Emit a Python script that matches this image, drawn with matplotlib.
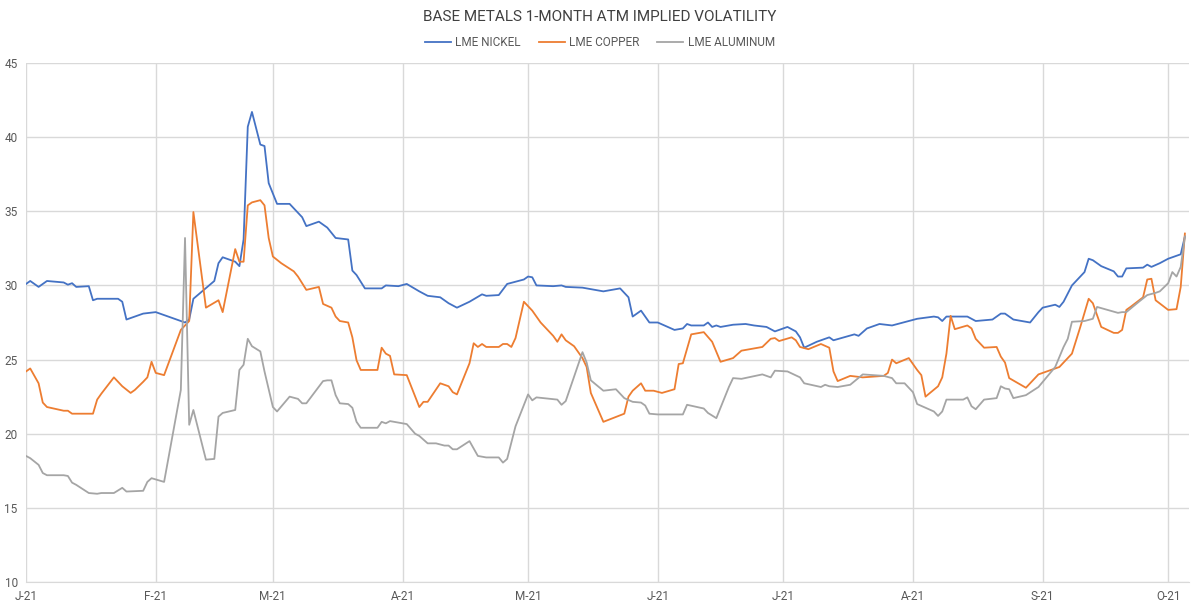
import pandas as pd
import matplotlib.pyplot as plt
import matplotlib.dates as mdates

nickel_dates = [
    "2021-01-01", "2021-01-02", "2021-01-04", "2021-01-06", "2021-01-10", "2021-01-11",
    "2021-01-12", "2021-01-13", "2021-01-16", "2021-01-17", "2021-01-18", "2021-01-23",
    "2021-01-24", "2021-01-25", "2021-01-29", "2021-02-01", "2021-02-08", "2021-02-09",
    "2021-02-10", "2021-02-15", "2021-02-16", "2021-02-17", "2021-02-20", "2021-02-21",
    "2021-02-22", "2021-02-23", "2021-02-24", "2021-02-26", "2021-02-27", "2021-02-28",
    "2021-03-02", "2021-03-05", "2021-03-07", "2021-03-08", "2021-03-09", "2021-03-12",
    "2021-03-14", "2021-03-16", "2021-03-19", "2021-03-20", "2021-03-21", "2021-03-23",
    "2021-03-27", "2021-03-28", "2021-03-31", "2021-04-02", "2021-04-05", "2021-04-07",
    "2021-04-10", "2021-04-12", "2021-04-14", "2021-04-17", "2021-04-20", "2021-04-21",
    "2021-04-24", "2021-04-26", "2021-04-30", "2021-05-01", "2021-05-02", "2021-05-03",
    "2021-05-07", "2021-05-09", "2021-05-10", "2021-05-14", "2021-05-19", "2021-05-23",
    "2021-05-25", "2021-05-26", "2021-05-28", "2021-05-30", "2021-06-01", "2021-06-05",
    "2021-06-07", "2021-06-08", "2021-06-09", "2021-06-12", "2021-06-13", "2021-06-14",
    "2021-06-15", "2021-06-16", "2021-06-19", "2021-06-22", "2021-06-24", "2021-06-27",
    "2021-06-29", "2021-07-02", "2021-07-04", "2021-07-05", "2021-07-06", "2021-07-09",
    "2021-07-12", "2021-07-13", "2021-07-18", "2021-07-19", "2021-07-21", "2021-07-24",
    "2021-07-27", "2021-07-31", "2021-08-02", "2021-08-06", "2021-08-07", "2021-08-08",
    "2021-08-09", "2021-08-14", "2021-08-16", "2021-08-20", "2021-08-22", "2021-08-23",
    "2021-08-25", "2021-08-29", "2021-08-31", "2021-09-01", "2021-09-04", "2021-09-05",
    "2021-09-06", "2021-09-08", "2021-09-11", "2021-09-12", "2021-09-13", "2021-09-15",
    "2021-09-18", "2021-09-19", "2021-09-20", "2021-09-21", "2021-09-25", "2021-09-26",
    "2021-09-27", "2021-09-29", "2021-10-01", "2021-10-04", "2021-10-05",
]
nickel_vals = [
    30.1, 30.3, 29.9, 30.3, 30.2, 30.05,
    30.15, 29.9, 29.95, 29.0, 29.1, 29.1,
    28.9, 27.7, 28.1, 28.2, 27.5, 27.7,
    29.1, 30.3, 31.5, 31.9, 31.6, 31.3,
    33.1, 40.7, 41.7, 39.5, 39.4, 36.9,
    35.5, 35.5, 34.9, 34.6, 34.0, 34.3,
    33.9, 33.2, 33.1, 31.0, 30.7, 29.8,
    29.8, 30.0, 29.95, 30.1, 29.6, 29.3,
    29.2, 28.8, 28.5, 28.9, 29.4, 29.3,
    29.35, 30.1, 30.4, 30.6, 30.55, 30.0,
    29.95, 30.0, 29.9, 29.85, 29.6, 29.8,
    29.2, 27.9, 28.3, 27.5, 27.5, 27.0,
    27.1, 27.4, 27.3, 27.3, 27.5, 27.2,
    27.3, 27.2, 27.35, 27.4, 27.3, 27.2,
    26.9, 27.2, 26.9, 26.5, 25.8, 26.2,
    26.5, 26.3, 26.7, 26.6, 27.1, 27.4,
    27.3, 27.6, 27.75, 27.9, 27.85, 27.6,
    27.9, 27.9, 27.6, 27.7, 28.1, 28.1,
    27.7, 27.5, 28.2, 28.5, 28.7, 28.55,
    28.9, 30.0, 30.9, 31.8, 31.7, 31.3,
    30.95, 30.6, 30.6, 31.15, 31.2, 31.4,
    31.25, 31.5, 31.8, 32.1, 33.3,
]

copper_dates = [
    "2021-01-01", "2021-01-02", "2021-01-04", "2021-01-05", "2021-01-06", "2021-01-10",
    "2021-01-11", "2021-01-12", "2021-01-17", "2021-01-18", "2021-01-19", "2021-01-22",
    "2021-01-24", "2021-01-26", "2021-01-27", "2021-01-29", "2021-01-30", "2021-01-31",
    "2021-02-01", "2021-02-03", "2021-02-07", "2021-02-09", "2021-02-10", "2021-02-13",
    "2021-02-16", "2021-02-17", "2021-02-20", "2021-02-21", "2021-02-22", "2021-02-23",
    "2021-02-24", "2021-02-26", "2021-02-27", "2021-02-28", "2021-03-01", "2021-03-03",
    "2021-03-06", "2021-03-07", "2021-03-09", "2021-03-12", "2021-03-13", "2021-03-15",
    "2021-03-16", "2021-03-17", "2021-03-19", "2021-03-20", "2021-03-21", "2021-03-22",
    "2021-03-26", "2021-03-27", "2021-03-28", "2021-03-29", "2021-03-30", "2021-04-02",
    "2021-04-05", "2021-04-06", "2021-04-07", "2021-04-10", "2021-04-12", "2021-04-13",
    "2021-04-14", "2021-04-17", "2021-04-18", "2021-04-19", "2021-04-20", "2021-04-21",
    "2021-04-24", "2021-04-25", "2021-04-26", "2021-04-27", "2021-04-28", "2021-04-30",
    "2021-05-02", "2021-05-04", "2021-05-07", "2021-05-08", "2021-05-09", "2021-05-10",
    "2021-05-12", "2021-05-14", "2021-05-15", "2021-05-16", "2021-05-19", "2021-05-24",
    "2021-05-25", "2021-05-26", "2021-05-28", "2021-05-29", "2021-05-31", "2021-06-02",
    "2021-06-05", "2021-06-06", "2021-06-07", "2021-06-09", "2021-06-12", "2021-06-14",
    "2021-06-16", "2021-06-19", "2021-06-21", "2021-06-26", "2021-06-28", "2021-06-29",
    "2021-06-30", "2021-07-03", "2021-07-04", "2021-07-05", "2021-07-07", "2021-07-10",
    "2021-07-12", "2021-07-13", "2021-07-14", "2021-07-17", "2021-07-20", "2021-07-25",
    "2021-07-26", "2021-07-27", "2021-07-28", "2021-07-31", "2021-08-02", "2021-08-03",
    "2021-08-04", "2021-08-07", "2021-08-08", "2021-08-09", "2021-08-10", "2021-08-11",
    "2021-08-14", "2021-08-15", "2021-08-16", "2021-08-18", "2021-08-21", "2021-08-22",
    "2021-08-23", "2021-08-24", "2021-08-28", "2021-08-31", "2021-09-05", "2021-09-08",
    "2021-09-10", "2021-09-12", "2021-09-13", "2021-09-15", "2021-09-18", "2021-09-19",
    "2021-09-20", "2021-09-21", "2021-09-22", "2021-09-25", "2021-09-26", "2021-09-27",
    "2021-09-28", "2021-10-01", "2021-10-03", "2021-10-04", "2021-10-05",
]
copper_vals = [
    24.2, 24.4, 23.4, 22.1, 21.8, 21.55,
    21.55, 21.35, 21.35, 22.3, 22.7, 23.8,
    23.2, 22.75, 22.95, 23.5, 23.8, 24.85,
    24.1, 23.95, 27.0, 27.6, 34.95, 28.5,
    29.0, 28.2, 32.45, 31.6, 31.6, 35.4,
    35.6, 35.75, 35.4, 33.2, 31.95, 31.5,
    30.95, 30.6, 29.7, 29.9, 28.75, 28.5,
    27.9, 27.6, 27.5, 26.5, 24.95, 24.3,
    24.3, 25.8, 25.4, 25.25, 24.0, 23.95,
    21.8, 22.15, 22.15, 23.4, 23.2, 22.8,
    22.65, 24.75, 26.1, 25.85, 26.05, 25.85,
    25.85, 26.05, 26.05, 25.85, 26.45, 28.9,
    28.3, 27.5, 26.6, 26.2, 26.7, 26.3,
    25.9, 25.1, 24.5, 22.75, 20.8, 21.35,
    22.5, 22.9, 23.4, 22.9, 22.9, 22.75,
    23.0, 24.7, 24.75, 26.7, 26.85, 26.2,
    24.85, 25.1, 25.6, 25.85, 26.4, 26.45,
    26.25, 26.5, 26.3, 25.85, 25.7, 26.05,
    25.8, 24.2, 23.55, 23.9, 23.8, 23.9,
    24.1, 25.0, 24.75, 25.1, 24.3, 23.95,
    22.5, 23.2, 23.8, 25.4, 27.95, 27.05,
    27.3, 27.1, 26.4, 25.8, 25.85, 25.2,
    24.8, 23.75, 23.1, 24.0, 24.5, 25.4,
    27.2, 29.1, 28.8, 27.2, 26.8, 26.8,
    27.0, 28.35, 28.55, 29.2, 30.4, 30.45,
    29.0, 28.35, 28.4, 29.9, 33.5,
]

aluminum_dates = [
    "2021-01-01", "2021-01-02", "2021-01-04", "2021-01-05", "2021-01-06", "2021-01-10",
    "2021-01-11", "2021-01-12", "2021-01-13", "2021-01-16", "2021-01-18", "2021-01-19",
    "2021-01-22", "2021-01-24", "2021-01-25", "2021-01-29", "2021-01-30", "2021-01-31",
    "2021-02-03", "2021-02-07", "2021-02-08", "2021-02-09", "2021-02-10", "2021-02-13",
    "2021-02-15", "2021-02-16", "2021-02-17", "2021-02-20", "2021-02-21", "2021-02-22",
    "2021-02-23", "2021-02-24", "2021-02-26", "2021-02-27", "2021-02-28", "2021-03-01",
    "2021-03-02", "2021-03-05", "2021-03-07", "2021-03-08", "2021-03-09", "2021-03-13",
    "2021-03-14", "2021-03-15", "2021-03-16", "2021-03-17", "2021-03-19", "2021-03-20",
    "2021-03-21", "2021-03-22", "2021-03-26", "2021-03-27", "2021-03-28", "2021-03-29",
    "2021-03-31", "2021-04-02", "2021-04-04", "2021-04-05", "2021-04-07", "2021-04-09",
    "2021-04-11", "2021-04-12", "2021-04-13", "2021-04-14", "2021-04-17", "2021-04-19",
    "2021-04-21", "2021-04-24", "2021-04-25", "2021-04-26", "2021-04-28", "2021-05-01",
    "2021-05-02", "2021-05-03", "2021-05-08", "2021-05-09", "2021-05-10", "2021-05-14",
    "2021-05-15", "2021-05-16", "2021-05-19", "2021-05-22", "2021-05-24", "2021-05-26",
    "2021-05-28", "2021-05-29", "2021-05-30", "2021-06-01", "2021-06-05", "2021-06-07",
    "2021-06-08", "2021-06-12", "2021-06-13", "2021-06-15", "2021-06-18", "2021-06-19",
    "2021-06-21", "2021-06-26", "2021-06-28", "2021-06-29", "2021-07-02", "2021-07-05",
    "2021-07-06", "2021-07-10", "2021-07-11", "2021-07-12", "2021-07-14", "2021-07-17",
    "2021-07-20", "2021-07-25", "2021-07-27", "2021-07-28", "2021-07-30", "2021-08-01",
    "2021-08-02", "2021-08-04", "2021-08-06", "2021-08-07", "2021-08-08", "2021-08-09",
    "2021-08-13", "2021-08-14", "2021-08-15", "2021-08-16", "2021-08-18", "2021-08-21",
    "2021-08-22", "2021-08-23", "2021-08-24", "2021-08-25", "2021-08-28", "2021-08-31",
    "2021-09-04", "2021-09-06", "2021-09-07", "2021-09-08", "2021-09-11", "2021-09-13",
    "2021-09-14", "2021-09-19", "2021-09-20", "2021-09-21", "2021-09-24", "2021-09-26",
    "2021-09-28", "2021-09-29", "2021-10-01", "2021-10-02", "2021-10-03", "2021-10-04",
    "2021-10-05",
]
aluminum_vals = [
    18.5, 18.35, 17.9, 17.35, 17.2, 17.2,
    17.15, 16.7, 16.55, 16.0, 15.95, 16.0,
    16.0, 16.35, 16.1, 16.15, 16.75, 17.0,
    16.75, 22.95, 33.2, 20.6, 21.6, 18.25,
    18.3, 21.15, 21.4, 21.6, 24.3, 24.65,
    26.4, 25.9, 25.55, 24.2, 23.0, 21.8,
    21.5, 22.5, 22.35, 22.05, 22.05, 23.55,
    23.6, 23.6, 22.6, 22.05, 22.0, 21.75,
    20.8, 20.4, 20.4, 20.8, 20.7, 20.85,
    20.75, 20.65, 20.0, 19.85, 19.35, 19.35,
    19.2, 19.2, 18.95, 18.95, 19.5, 18.5,
    18.4, 18.4, 18.05, 18.3, 20.5, 22.65,
    22.25, 22.45, 22.3, 21.95, 22.2, 25.5,
    24.8, 23.6, 22.9, 23.0, 22.4, 22.15,
    22.1, 21.9, 21.35, 21.3, 21.3, 21.3,
    21.95, 21.7, 21.4, 21.05, 23.15, 23.75,
    23.7, 24.0, 23.8, 24.25, 24.2, 23.8,
    23.4, 23.15, 23.3, 23.2, 23.15, 23.3,
    24.0, 23.9, 23.75, 23.4, 23.4, 22.8,
    22.0, 21.75, 21.5, 21.2, 21.5, 22.3,
    22.3, 22.45, 21.85, 21.65, 22.3, 22.4,
    23.2, 23.05, 23.0, 22.4, 22.6, 23.15,
    24.5, 25.85, 26.4, 27.55, 27.6, 27.75,
    28.55, 28.15, 28.2, 28.2, 28.9, 29.35,
    29.5, 29.6, 30.15, 30.9, 30.6, 31.25,
    33.3,
]

series = [
    ("LME NICKEL", nickel_dates, nickel_vals, "#4472C4"),
    ("LME COPPER", copper_dates, copper_vals, "#ED7D31"),
    ("LME ALUMINUM", aluminum_dates, aluminum_vals, "#A5A5A5"),
]

plt.rcParams['font.family'] = ['Roboto', 'DejaVu Sans']

fig = plt.figure(figsize=(12, 6.07), dpi=100)
ax = fig.add_axes([0.0217, 0.0412, 0.9692, 0.8550])

for name, dates, vals, color in series:
    ax.plot(pd.to_datetime(dates), vals, color=color, lw=1.3, label=name)

ax.set_ylim(10, 45)
ax.set_yticks(range(10, 46, 5))
ax.set_xlim(pd.Timestamp("2021-01-01"), pd.Timestamp("2021-10-06"))
ax.xaxis.set_major_locator(mdates.MonthLocator())
ax.xaxis.set_major_formatter(
    plt.FuncFormatter(lambda x, pos: mdates.num2date(x).strftime('%b')[0] + '-' + mdates.num2date(x).strftime('%y')))

ax.grid(True, color='#D9D9D9', lw=1)
ax.set_axisbelow(True)
for side in ['top', 'right', 'left']:
    ax.spines[side].set_visible(False)
ax.spines['bottom'].set_color('#D9D9D9')
ax.tick_params(length=0, colors='#595959', labelsize=8.5)
ax.tick_params(axis='y', pad=6)
ax.tick_params(axis='x', pad=6)

fig.text(0.5, 0.972, "BASE METALS 1-MONTH ATM IMPLIED VOLATILITY", ha='center', va='center',
         fontsize=11, color='#404040')
fig.legend(loc='center', bbox_to_anchor=(0.5, 0.93), ncol=3, frameon=False,
           fontsize=8.5, labelcolor='#595959', handlelength=2.2, columnspacing=1.5,
           handletextpad=0.4)

fig.savefig("out.png", dpi=100)
